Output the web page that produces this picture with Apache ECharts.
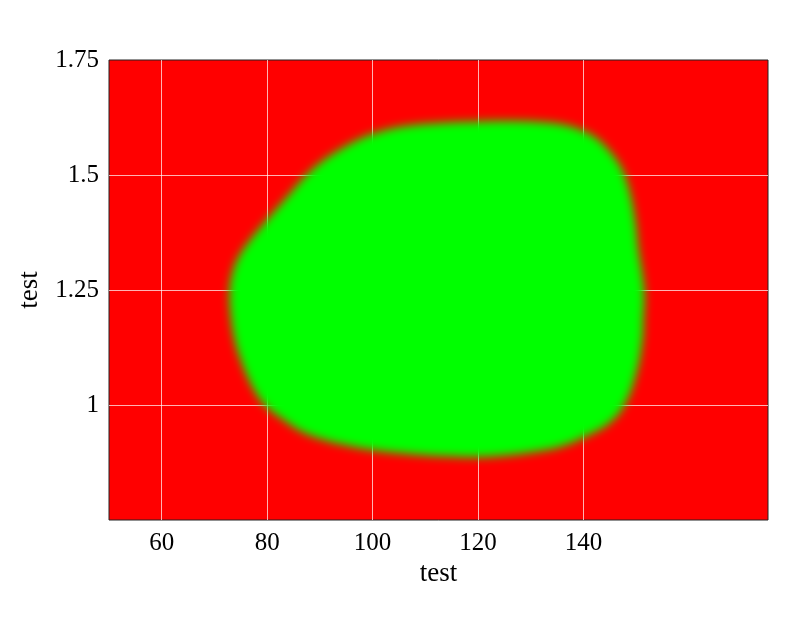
<!DOCTYPE html>
<html>
<head>
<meta charset="utf-8">
<script src="https://cdn.jsdelivr.net/npm/echarts@6/dist/echarts.min.js"></script>
<style>html,body{margin:0;padding:0;background:#fff}#c{width:800px;height:617px}</style>
</head>
<body>
<div id="c"></div>
<script>
// Axis ticks
const xTicks = [60, 80, 100, 120, 140];
const yTicks = [1, 1.25, 1.5, 1.75];
const xRange = [50, 175];
const yRange = [0.75, 1.75];
// Boundary of the green region, clockwise from the left side
const blobX = [72.89, 73.46, 74.60, 76.49, 78.96, 81.61, 84.27, 87.11, 90.52, 94.31, 97.54, 100.0, 105.12, 112.70, 119.91, 125.97, 131.66, 136.40, 140.0, 142.65, 144.93, 146.64, 147.77, 148.91, 149.86, 150.43, 151.18, 151.56, 151.37, 151.18, 150.05, 147.77, 144.93, 140.57, 136.02, 131.66, 125.97, 119.91, 112.70, 105.12, 100.0, 95.64, 90.90, 86.73, 83.13, 79.53, 77.63, 76.11, 74.79, 73.84, 73.08];
const blobY = [1.25, 1.2891, 1.3217, 1.3543, 1.3891, 1.4239, 1.4587, 1.4957, 1.5304, 1.5587, 1.5783, 1.5891, 1.6043, 1.6130, 1.6163, 1.6174, 1.6152, 1.6087, 1.5957, 1.5783, 1.5522, 1.5261, 1.5, 1.4565, 1.3978, 1.3370, 1.2826, 1.2391, 1.1848, 1.1413, 1.0696, 1.0, 0.9609, 0.9326, 0.9109, 0.9, 0.8913, 0.8870, 0.8891, 0.8957, 0.9022, 0.9109, 0.9239, 0.9413, 0.9674, 1.0, 1.0304, 1.0652, 1.1043, 1.1413, 1.1957];

const FONT = "'Liberation Serif', serif";
const chart = echarts.init(document.getElementById('c'), null, {renderer: 'canvas'});
const pts = blobX.map((x, i) => [x, blobY[i]]);
const SHIFT = 3000; // draw shape off-screen, keep only its blurred shadow in place
chart.setOption({
  animation: false,
  backgroundColor: '#ffffff',
  grid: {
    left: 109, right: 32, top: 60, bottom: 97,
    show: true, backgroundColor: '#ff0000', borderColor: '#222', borderWidth: 1,
    outerBoundsMode: 'none', containLabel: false
  },
  xAxis: {
    type: 'value', min: xRange[0], max: xRange[1],
    name: 'test', nameLocation: 'middle', nameGap: 39,
    nameTextStyle: {fontFamily: FONT, fontSize: 27, color: '#000'},
    axisLine: {show: false},
    axisTick: {show: false, customValues: xTicks},
    axisLabel: {customValues: xTicks, fontFamily: FONT, fontSize: 25, color: '#000', margin: 11},
    splitLine: {show: true, lineStyle: {color: 'rgba(255,255,255,0.7)', width: 1}}
  },
  yAxis: {
    type: 'value', min: yRange[0], max: yRange[1],
    name: 'test', nameLocation: 'middle', nameGap: 66,
    nameTextStyle: {fontFamily: FONT, fontSize: 27, color: '#000'},
    axisLine: {show: false},
    axisTick: {show: false, customValues: yTicks.filter(v => v < yRange[1])},
    axisLabel: {customValues: yTicks, fontFamily: FONT, fontSize: 25, color: '#000', margin: 10},
    splitLine: {show: true, lineStyle: {color: 'rgba(255,255,255,0.7)', width: 1}}
  },
  series: [{
    type: 'custom',
    data: pts,
    encode: {x: 0, y: 1},
    clip: false,
    renderItem: function (params, api) {
      if (params.dataIndex !== 0) return null;
      const poly = blobX.map((x, i) => {
        const p = api.coord([x, blobY[i]]);
        return [p[0] + SHIFT, p[1]];
      });
      return {
        type: 'polygon',
        shape: {points: poly, smooth: 0.4},
        style: {fill: '#00ff00', shadowBlur: 10, shadowColor: '#00ff00', shadowOffsetX: -SHIFT, shadowOffsetY: 0}
      };
    }
  }]
});
</script>
</body>
</html>
